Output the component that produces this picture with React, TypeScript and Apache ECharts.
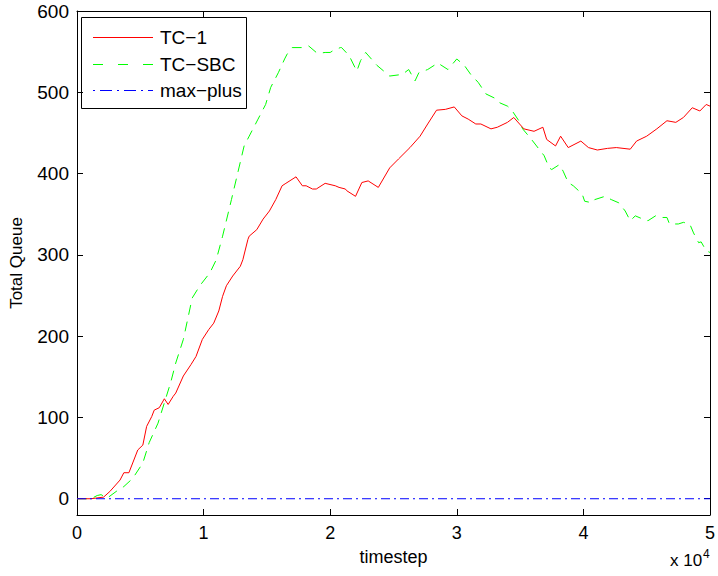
import React, { useEffect, useRef } from "react";
import * as echarts from "echarts";

const seriesNames = ["TC−1", "TC−SBC", "max−plus"];
const seriesColors = ["#ff0000", "#00ff00", "#0000ff"];

const tc1Steps = [0, 1100, 2100, 2600, 3400, 3700, 4100, 4400, 4800, 5200, 5500, 5900, 6100, 6500, 6900, 7200, 7600, 7800, 8400, 9000, 9400, 9900, 10400, 10800, 11200, 11500, 11800, 12300, 12900, 13100, 13500, 13600, 14200, 14700, 15200, 15700, 16200, 16500, 17300, 17800, 18100, 18600, 18900, 19600, 20400, 20700, 21200, 21300, 22000, 22500, 23000, 23800, 24700, 25400, 26300, 27100, 27700, 28400, 29100, 29800, 30400, 30900, 31500, 31900, 32700, 33200, 34000, 34500, 35300, 36100, 36800, 37100, 37800, 38200, 38800, 39800, 40400, 41100, 41900, 42600, 43700, 44200, 45000, 45800, 46600, 47300, 47900, 48600, 49200, 49700, 50000];
const tc1Values = [0, 0, 2, 9, 23, 32, 32, 44, 60, 66, 89, 101, 109, 112, 123, 116, 126, 130, 151, 165, 175, 196, 208, 216, 231, 249, 262, 274, 286, 294, 319, 323, 331, 344, 354, 368, 385, 388, 396, 385, 385, 381, 381, 388, 385, 383, 381, 379, 372, 389, 391, 383, 407, 418, 432, 446, 461, 478, 479, 482, 471, 467, 461, 461, 455, 457, 463, 469, 455, 452, 457, 442, 434, 446, 432, 440, 432, 429, 431, 432, 430, 440, 446, 455, 465, 463, 469, 481, 477, 485, 483];

const sbcSteps = [0, 1100, 1600, 1900, 2400, 3100, 3700, 4400, 5200, 5700, 6400, 6900, 7400, 7800, 8400, 8800, 9100, 9700, 10500, 11000, 11500, 12200, 12700, 13200, 13600, 14300, 14900, 15300, 15900, 16400, 16600, 17000, 17800, 18300, 18900, 19100, 19600, 20000, 20200, 20800, 20900, 21500, 22100, 22400, 22800, 23700, 24700, 25700, 26200, 26700, 27000, 27700, 28500, 29300, 30000, 30600, 31100, 31700, 32300, 33100, 33400, 34000, 34300, 34900, 35200, 35800, 36500, 36900, 37300, 37500, 38100, 38400, 38800, 39200, 39900, 40100, 40700, 40900, 41700, 42200, 42800, 43300, 43700, 44100, 44700, 45100, 45700, 46000, 46600, 46800, 47500, 47900, 48400, 48700, 49100, 49300, 49700, 50000];
const sbcValues = [0, 0, 4, 5, 1, 9, 15, 25, 44, 69, 93, 118, 143, 167, 196, 225, 247, 262, 278, 294, 323, 368, 401, 434, 446, 467, 485, 506, 524, 541, 547, 555, 555, 557, 549, 548, 549, 549, 551, 555, 555, 545, 526, 539, 549, 533, 520, 522, 528, 514, 524, 528, 536, 528, 541, 533, 522, 512, 498, 492, 487, 483, 479, 465, 455, 444, 430, 422, 407, 405, 411, 403, 389, 385, 375, 366, 364, 368, 372, 368, 364, 354, 342, 348, 344, 342, 348, 346, 346, 338, 338, 340, 338, 327, 315, 316, 305, 303];

const maxPlusSteps = [0, 50000];
const maxPlusValues = [0, 0];

const yTicks = [0, 100, 200, 300, 400, 500, 600];

const FONT = "Liberation Sans";

const lineDashes: (number[] | null)[] = [null, [10, 7], [9, 4, 2, 4]];
const legendDashes: (number[] | null)[] = [null, [10, 15], [2, 5, 12, 5]];

function zip(xs: number[], ys: number[]) {
  return xs.map((x, i) => [x, ys[i]]);
}

export default function App() {
  const ref = useRef<HTMLDivElement>(null);
  useEffect(() => {
    if (!ref.current) return;
    const chart = echarts.init(ref.current, undefined, { renderer: "svg" });
    const axisCommon = {
      axisLine: { show: true, onZero: false, lineStyle: { color: "#000", width: 1 } },
      splitLine: { show: false },
    };
    const seriesSteps = [tc1Steps, sbcSteps, maxPlusSteps];
    const seriesVals = [tc1Values, sbcValues, maxPlusValues];

    const legendTop = 17;
    const rowY = [37.5, 64.5, 90.5];
    const legendChildren: any[] = [
      {
        type: "rect",
        shape: { x: 81.5, y: legendTop + 0.5, width: 165, height: 91 },
        style: { fill: "#fff", stroke: "#000", lineWidth: 1 },
      },
    ];
    seriesNames.forEach((name, i) => {
      legendChildren.push({
        type: "line",
        shape: { x1: 93, y1: rowY[i], x2: 153, y2: rowY[i] },
        style: { stroke: seriesColors[i], lineWidth: 1, lineDash: legendDashes[i] || undefined },
      });
      legendChildren.push({
        type: "text",
        x: 160,
        y: rowY[i],
        style: {
          text: name,
          fontFamily: FONT,
          fontSize: 19,
          fill: "#000",
          verticalAlign: "middle",
        },
      });
    });

    chart.setOption({
      animation: false,
      backgroundColor: "#fff",
      grid: { left: 76, right: 4, top: 11, bottom: 61, containLabel: false },
      xAxis: [
        {
          type: "value",
          min: 0,
          max: 50000,
          interval: 10000,
          ...axisCommon,
          axisTick: { show: true, inside: true, length: 6, lineStyle: { color: "#000" } },
          axisLabel: {
            fontFamily: FONT,
            fontSize: 18,
            color: "#000",
            margin: 9,
            formatter: (v: number) => String(v / 10000),
          },
          name: "timestep",
          nameLocation: "middle",
          nameGap: 33,
          nameTextStyle: { fontFamily: FONT, fontSize: 18, color: "#000" },
        },
        {
          type: "value",
          position: "top",
          min: 0,
          max: 50000,
          interval: 10000,
          ...axisCommon,
          axisTick: { show: true, inside: true, length: 6, lineStyle: { color: "#000" } },
          axisLabel: { show: false },
        },
      ],
      yAxis: [
        {
          type: "value",
          min: -20,
          max: 600,
          ...axisCommon,
          axisTick: { show: true, inside: true, length: 6, customValues: yTicks, lineStyle: { color: "#000" } },
          axisLabel: {
            fontFamily: FONT,
            fontSize: 19,
            color: "#000",
            margin: 8,
            customValues: yTicks,
          },
          name: "Total Queue",
          nameLocation: "middle",
          nameGap: 52,
          nameRotate: 90,
          nameTextStyle: { fontFamily: FONT, fontSize: 17, color: "#000" },
        },
        {
          type: "value",
          position: "right",
          min: -20,
          max: 600,
          ...axisCommon,
          axisTick: { show: true, inside: true, length: 6, customValues: yTicks, lineStyle: { color: "#000" } },
          axisLabel: { show: false, customValues: yTicks },
        },
      ],
      series: seriesNames.map((name, i) => ({
        name,
        type: "line",
        data: zip(seriesSteps[i], seriesVals[i]),
        showSymbol: false,
        symbol: "none",
        lineStyle: { color: seriesColors[i], width: 1, type: lineDashes[i] || "solid" },
        itemStyle: { color: seriesColors[i] },
        z: [3, 2, 4][i],
      })),
      graphic: [
        { type: "group", z: 100, children: legendChildren },
        {
          type: "text",
          x: 670,
          y: 560,
          style: {
            text: "x 10",
            fontFamily: FONT,
            fontSize: 17,
            fill: "#000",
            verticalAlign: "middle",
          },
        },
        {
          type: "text",
          x: 703,
          y: 554,
          style: {
            text: "4",
            fontFamily: FONT,
            fontSize: 12,
            fill: "#000",
            verticalAlign: "middle",
          },
        },
      ],
    });
    return () => chart.dispose();
  }, []);
  return (
    <div
      ref={ref}
      style={{ position: "fixed", left: 0, top: 0, width: 718, height: 576, background: "#fff" }}
    />
  );
}
